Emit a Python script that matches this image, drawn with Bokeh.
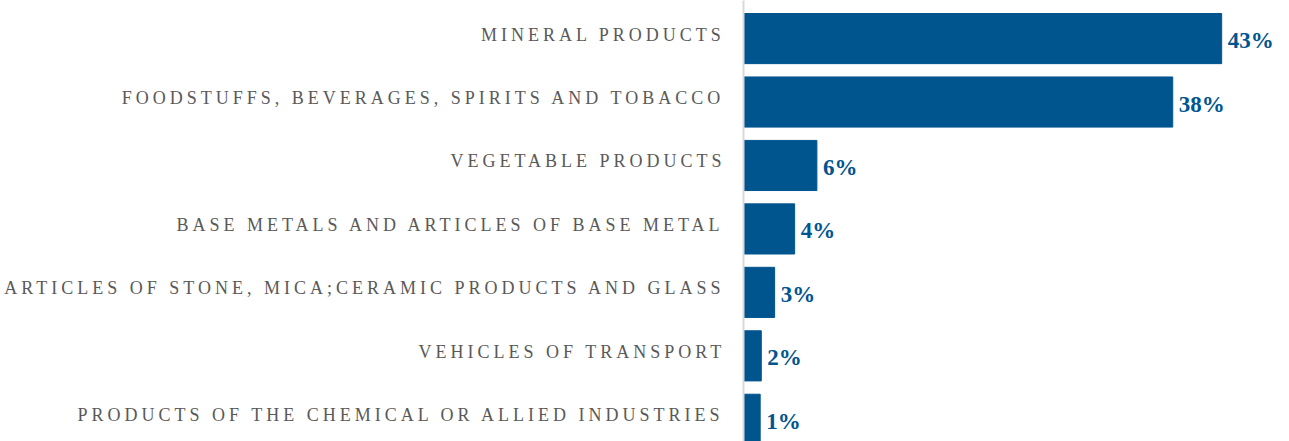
from bokeh.plotting import figure
from bokeh.layouts import row
from bokeh.models import Range1d, FixedTicker, ColumnDataSource
from bokeh.core.properties import value
from bokeh.embed import file_html
from bokeh.resources import INLINE

categories = [
    "MINERAL PRODUCTS",
    "FOODSTUFFS, BEVERAGES, SPIRITS AND TOBACCO",
    "VEGETABLE PRODUCTS",
    "BASE METALS AND ARTICLES OF BASE METAL",
    "ARTICLES OF STONE, MICA;CERAMIC PRODUCTS AND GLASS",
    "VEHICLES OF TRANSPORT",
    "PRODUCTS OF THE CHEMICAL OR ALLIED INDUSTRIES",
]
values = [43.0, 38.6, 6.6, 4.6, 2.8, 1.6, 1.5]
value_labels = ["43%", "38%", "6%", "4%", "3%", "2%", "1%"]

LS = 4.0  # letter spacing (px) of the category labels
idx = list(range(len(categories)))
src = ColumnDataSource(dict(y=idx, v=values, lab=value_labels))
cat_src = ColumnDataSource(dict(
    y=idx,
    x=[1.0] * len(categories),
    lab=categories,
    off=[-len(c) * LS for c in categories],
))

BLUE = "#00558F"
H = 441
y_range = Range1d(6.35, -0.6)

# left figure: category labels (letter-spaced)
pl = figure(width=725, height=H, output_backend="svg", toolbar_location=None,
            x_range=Range1d(0, 1), y_range=y_range,
            min_border_left=0, min_border_right=0, min_border_top=0, min_border_bottom=0)
pl.text(x="x", y="y", text="lab", source=cat_src, x_offset="off", y_offset=-4,
        text_align="right", text_baseline="middle",
        text_font=value("Liberation Serif"), text_font_size="18px", text_color="#595959")
pl.xaxis.visible = False
pl.yaxis.visible = False
pl.grid.visible = False
pl.outline_line_color = None
pl.styles = {"letter-spacing": f"{LS}px"}

# right figure: bars and value labels
p = figure(width=564, height=H, output_backend="svg", toolbar_location=None,
           x_range=Range1d(0, 49.1), y_range=y_range,
           min_border_left=18, min_border_right=0, min_border_top=0, min_border_bottom=0)
p.hbar(y="y", left=0, right="v", height=0.79, source=src, fill_color=BLUE, line_color=BLUE)
p.text(x="v", y="y", text="lab", source=src, x_offset=6, y_offset=2,
       text_align="left", text_baseline="middle",
       text_font=value("Liberation Serif"), text_font_style="bold",
       text_font_size="23px", text_color=BLUE)
p.xaxis.visible = False
p.grid.visible = False
p.outline_line_color = None
yb = p.yaxis[0]
yb.ticker = FixedTicker(ticks=[])
yb.major_tick_line_color = None
yb.minor_tick_line_color = None
yb.major_tick_out = 0
yb.major_tick_in = 0
yb.axis_line_color = "#D9D9D9"
yb.axis_line_width = 2

layout = row(pl, p)
open("out.html", "w").write(file_html(layout, INLINE))
